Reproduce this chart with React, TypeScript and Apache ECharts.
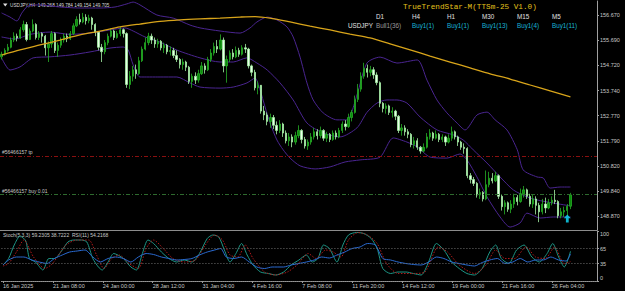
import React, { useEffect, useRef } from "react";
import * as echarts from "echarts";

const symbolName = "USDJPY";
const timeframe = "H4";
const firstOpen = 155.05;
const closes = [
  155.15, 155.3, 155.42, 155.7, 155.85, 155.78, 156.1, 156.3, 155.72, 156.05,
  156.3, 155.8, 155.95, 155.85, 155.4, 155.55, 155.95, 155.3, 155.5, 155.7,
  155.85, 155.75, 155.95, 156.25, 156.5, 156.4, 156.58, 156.45, 156.55, 156.3,
  156.0, 155.42, 155.25, 155.6, 155.85, 156.05, 155.8, 155.95, 156.1, 155.95,
  153.98, 154.3, 154.55, 154.4, 154.9, 155.35, 155.6, 155.85, 155.7, 155.55,
  155.65, 155.4, 155.5, 155.25, 155.3, 155.1, 154.95, 154.75, 154.85, 154.65,
  154.1, 154.3, 154.15, 154.4, 154.7, 154.55, 154.95, 155.2, 155.45, 155.35,
  155.7, 154.7, 154.95, 155.2, 155.05, 155.3, 155.15, 155.4, 155.35, 154.7,
  154.45, 153.85, 153.95, 152.95, 152.8, 152.55, 152.7, 152.4, 152.2, 152.45,
  152.1, 151.8, 151.95, 151.75, 152.0, 152.2, 151.85, 151.6, 151.75, 151.95,
  152.15, 152.0, 152.2, 151.9, 152.05, 151.85, 152.1, 151.95, 152.2, 152.45,
  152.35, 152.7, 152.9, 153.4, 153.8, 154.3, 154.6, 154.45, 154.55, 154.35,
  154.05, 153.25, 153.05, 153.15, 152.9, 152.95, 152.75, 152.2, 152.3, 152.15,
  152.05, 151.65, 151.8, 151.55, 151.4, 151.55, 151.95, 152.1, 151.9, 152.05,
  151.85, 151.95, 151.75, 151.9, 152.15, 151.95, 151.75, 151.55, 151.5, 150.45,
  150.3, 150.15, 149.7, 149.8, 149.55, 150.1, 150.35, 150.25, 150.45, 149.65,
  149.25, 149.4, 149.15, 149.35, 149.6, 149.45, 149.75, 149.9, 149.65, 149.35,
  149.55, 149.3, 149.05, 149.35, 149.2, 149.4, 149.5, 149.45, 148.9, 149.05,
  149.1, 149.268, 149.705,
];
const highs = [
  155.25, 155.38, 155.55, 155.8, 156.0, 155.95, 156.2, 156.45, 156.4, 156.15,
  156.5, 156.35, 156.05, 156.0, 155.9, 155.65, 156.05, 156.0, 155.6, 155.8,
  155.95, 155.95, 156.05, 156.35, 156.62, 156.72, 156.75, 156.7, 156.68, 156.6,
  156.35, 156.05, 155.55, 155.7, 155.95, 156.15, 156.1, 156.05, 156.2, 156.15,
  156.0, 154.5, 154.7, 154.75, 155.05, 155.45, 155.8, 155.98, 155.95, 155.8,
  155.75, 155.7, 155.6, 155.55, 155.45, 155.4, 155.3, 155.0, 154.98, 154.9,
  154.7, 154.4, 154.45, 154.55, 154.85, 154.8, 155.05, 155.35, 155.6, 155.7,
  155.92, 155.8, 155.1, 155.3, 155.35, 155.45, 155.4, 155.5, 155.55, 155.4,
  154.75, 154.55, 154.1, 153.9, 153.15, 152.9, 152.85, 152.8, 152.55, 152.6,
  152.5, 152.2, 152.1, 152.05, 152.15, 152.4, 152.25, 151.95, 151.85, 152.1,
  152.3, 152.25, 152.35, 152.25, 152.15, 152.1, 152.2, 152.2, 152.3, 152.55,
  152.6, 152.85, 153.0, 153.55, 154.0, 154.45, 154.82, 154.75, 154.7, 154.65,
  154.45, 154.1, 153.3, 153.25, 153.2, 153.1, 153.0, 152.8, 152.45, 152.4,
  152.25, 152.1, 151.95, 151.9, 151.6, 151.7, 152.1, 152.25, 152.15, 152.2,
  152.1, 152.05, 152.0, 152.05, 152.35, 152.2, 152.0, 151.8, 151.7, 151.55,
  150.55, 150.4, 150.2, 149.95, 149.85, 150.65, 150.6, 150.55, 150.6, 150.5,
  149.7, 149.5, 149.45, 149.5, 149.75, 149.7, 149.95, 150.05, 149.95, 149.75,
  149.7, 149.65, 149.4, 149.55, 149.6, 149.55, 149.65, 149.9, 149.5, 149.2,
  149.25, 149.35, 149.784,
];
const lows = [
  154.95, 155.1, 155.25, 155.38, 155.62, 155.65, 155.75, 156.02, 155.65, 155.7,
  156.0, 155.72, 155.7, 155.6, 155.1, 154.85, 155.4, 155.2, 155.05, 155.4,
  155.6, 155.62, 155.7, 155.9, 156.2, 156.3, 156.35, 156.3, 156.35, 156.1,
  155.85, 155.3, 154.85, 155.15, 155.5, 155.8, 155.7, 155.75, 155.85, 155.8,
  153.85, 153.8, 154.1, 154.2, 154.35, 154.85, 155.3, 155.5, 155.55, 155.4,
  155.4, 155.3, 155.2, 155.15, 155.1, 155.0, 154.85, 154.6, 154.55, 154.5,
  154.0, 153.85, 154.0, 154.05, 154.35, 154.4, 154.5, 154.85, 155.1, 155.2,
  155.3, 154.45, 154.05, 154.85, 154.95, 155.0, 155.05, 155.1, 155.2, 154.6,
  154.3, 153.75, 153.6, 152.85, 152.6, 152.4, 152.3, 152.25, 152.05, 152.1,
  151.95, 151.7, 151.6, 151.55, 151.65, 151.9, 151.7, 151.5, 151.45, 151.65,
  151.85, 151.85, 151.9, 151.8, 151.75, 151.75, 151.8, 151.85, 151.9, 152.1,
  152.2, 152.3, 152.55, 152.85, 153.3, 153.7, 154.2, 154.25, 154.3, 154.2,
  153.95, 153.1, 152.9, 152.85, 152.8, 152.7, 152.6, 152.1, 152.0, 152.0,
  151.9, 151.55, 151.5, 151.45, 151.3, 151.35, 151.5, 151.85, 151.8, 151.85,
  151.75, 151.75, 151.6, 151.7, 151.8, 151.85, 151.6, 151.45, 151.3, 150.35,
  150.15, 150.05, 149.6, 149.55, 149.45, 149.5, 150.0, 150.15, 150.2, 149.55,
  149.1, 148.95, 149.05, 149.0, 149.2, 149.3, 149.4, 149.6, 149.55, 149.25,
  149.2, 148.95, 148.65, 148.95, 149.0, 149.15, 149.3, 149.35, 148.8, 148.8,
  148.85, 148.9, 149.154,
];
const emptyBarsRight = 8;
const dateTicks = [
  "16 Jan 2025", "21 Jan 08:00", "24 Jan 00:00", "28 Jan 12:00", "31 Jan 04:00", "4 Feb 16:00",
  "7 Feb 08:00", "11 Feb 20:00", "14 Feb 12:00", "19 Feb 00:00", "21 Feb 16:00", "26 Feb 04:00",
];
const barsPerDateTick = 16;
const priceTicks = [156.67, 155.69, 154.72, 153.74, 152.77, 151.79, 150.82, 149.84, 148.87];
const oscTicks = [0, 35, 65, 100];
const oscLevels = [65, 35];
const orderTicket = "#56466157";
const tpPrice = 151.223;
const buyPrice = 149.73;
const buyLots = "0.01";
const arrowSignals = [[181, 148.79]];
const indicatorTitle = "TrueTrendStar-M(TTSm-25 V1.0)";
const tfNames = ["D1", "H4", "H1", "M30", "M15", "M5"];
const tfSignals = ["Bull1(36)", "Buy1(1)", "Buy1(1)", "Buy1(13)", "Buy1(4)", "Buy1(11)"];

// [bar index, price]
const bbUpper = [
  [0, 156.75], [2.7, 156.59], [4.9, 156.44], [6.5, 156.75], [8.5, 157.02], [12.3, 157.06], [18.7, 156.98],
  [25.1, 156.94], [31.5, 156.94], [36.3, 156.98], [40.1, 157.1], [42.1, 157.17], [44.3, 157.06],
  [49.7, 156.67], [54.9, 156.55], [60.3, 156.28], [63.5, 156.17], [69.9, 156.05], [76.3, 155.97],
  [79.5, 156.17], [81.7, 156.4], [85, 156.59], [88.1, 156.48], [91.3, 156.21], [93.3, 155.82],
  [95.5, 155.04], [97.7, 154.04], [99.7, 153.38], [102.9, 152.88], [107.3, 152.61], [110.5, 152.61],
  [113.7, 153.57], [116.9, 154.81], [121.1, 155.04], [126.5, 154.81], [133, 154.93], [136.1, 154.15],
  [139.3, 153.38], [142.5, 152.88], [145.7, 152.49], [148.3, 152.22], [152.1, 152.8], [155.3, 152.91],
  [157.9, 152.61], [161.7, 152.22], [165, 151.45], [166.9, 150.67], [171.3, 150.4], [173.3, 150.36],
  [175.5, 149.97], [178.7, 150.01], [182, 150.01],
];
const bbMiddle = [
  [0, 155.82], [4.3, 155.74], [9.1, 155.92], [15.5, 156.01], [21.9, 155.92], [28.3, 155.97], [34.7, 156.09],
  [39.5, 156.17], [42.1, 156.05], [45.9, 155.82], [50.7, 155.62], [56.1, 155.31], [63.5, 155.01],
  [69.9, 154.85], [74.1, 154.85], [78.5, 155.01], [81.7, 154.81], [85, 154.54], [89.1, 154.04],
  [93.3, 153.38], [97.7, 152.49], [102.9, 152.1], [108.3, 151.95], [113.7, 152.3], [116.9, 152.9],
  [120.1, 153.26], [123.3, 153.38], [126.5, 153.38], [129.7, 153.26], [133.9, 152.72], [139.3, 152.22],
  [144.5, 152.03], [147.7, 151.83], [150.9, 151.45], [155.3, 150.94], [159.5, 150.4], [163.7, 149.9],
  [168.1, 149.63], [171.3, 149.51], [176.5, 149.39], [182, 149.28],
];
const bbLower = [
  [0, 155.01], [2.7, 154.54], [5.9, 154.66], [10.1, 155.01], [15.5, 155.05], [21.9, 155.12], [28.3, 155.24],
  [34.7, 155.39], [38.9, 155.43], [40.5, 155.32], [42.1, 154.74], [44.3, 154.27], [50.7, 154.27],
  [56.1, 154.27], [60.3, 154.04], [63.5, 153.88], [69.9, 153.84], [74.1, 153.88], [78.5, 154.04],
  [81.1, 154.23], [82.7, 153.77], [84.3, 153.11], [85.9, 152.49], [88.1, 151.83], [90.1, 151.45],
  [92.3, 151.13], [95.5, 150.83], [100.3, 150.71], [105.1, 150.79], [109.9, 150.98], [114.7, 151.06],
  [121.1, 151.17], [125.3, 151.91], [129.7, 151.75], [133, 151.56], [137.1, 151.17], [142.5, 151.13],
  [146.7, 151.29], [148.9, 151.06], [152.1, 150.4], [155.3, 149.63], [159.5, 148.85], [162.7, 148.46],
  [165.9, 148.62], [168.1, 149.0], [172.3, 148.81], [176.5, 148.85], [182, 148.85],
];
const maLine = [
  [0, 155.12], [5.9, 155.32], [12.3, 155.51], [18.7, 155.7], [25.1, 155.9], [31.5, 156.05], [37.9, 156.21],
  [44.3, 156.32], [50.7, 156.42], [57.1, 156.48], [63.5, 156.52], [69.9, 156.55], [76.3, 156.59],
  [81.1, 156.61], [85.9, 156.55], [92.3, 156.4], [98.7, 156.24], [105.1, 156.09], [111.5, 155.93],
  [117.9, 155.78], [124.3, 155.55], [130.7, 155.32], [137.1, 155.08], [143.5, 154.85], [149.9, 154.62],
  [156.3, 154.39], [162.7, 154.19], [169.1, 153.96], [175.5, 153.73], [182, 153.5],
];
// [bar index, value]
const stochK = [
  [0, 32], [1.8, 45], [3.6, 72], [5.5, 90], [7.3, 80], [8.5, 45], [10.4, 38], [12.8, 22], [14.7, 45], [16.5, 45],
  [19, 62], [20.8, 78], [22.6, 82], [25.1, 82], [26.9, 78], [28.8, 45], [30.6, 28], [31.8, 22], [33.7, 38],
  [35.5, 55], [38.6, 45], [41, 28], [42.8, 22], [44.7, 55], [46.5, 82], [48.3, 75], [50.8, 58], [53.2, 45],
  [55.7, 38], [58.1, 42], [60.6, 38], [63, 55], [65.5, 85], [67.3, 92], [69.2, 88], [71, 62], [72.8, 38],
  [74.7, 55], [76.5, 75], [78.3, 52], [80.2, 32], [82.6, 18], [85.1, 15], [87.5, 12], [90, 18], [92.4, 32],
  [94.9, 42], [97.3, 52], [99.2, 38], [101, 45], [102.8, 72], [104.7, 65], [107.1, 38], [109, 72],
  [110.8, 92], [113.3, 97], [115.7, 95], [118.1, 85], [120, 65], [121.8, 25], [124.3, 15], [126.7, 18],
  [129.2, 18], [131.6, 15], [134.1, 12], [136.5, 38], [139, 75], [141.4, 62], [143.9, 38], [146.3, 25],
  [148.8, 15], [151.2, 12], [153.7, 25], [156.1, 58], [158, 72], [159.8, 45], [162.2, 35], [164.7, 62],
  [167.1, 72], [169.6, 48], [172, 38], [174.5, 55], [176.3, 75], [178.2, 48], [180, 28], [182, 59.2305],
];
const stochD = [
  [0, 30], [1.8, 35], [4.3, 58], [6.7, 82], [9.8, 48], [13.4, 25], [15.9, 35], [20.2, 72], [23.8, 82],
  [27.5, 82], [30, 52], [32.4, 25], [34.9, 45], [37.3, 52], [40.4, 35], [43.4, 25], [45.9, 65], [48.3, 82],
  [51.4, 65], [54.5, 45], [58.1, 38], [61.8, 42], [64.9, 72], [67.9, 92], [70.4, 82], [72.8, 52], [75.3, 48],
  [77.7, 72], [80.2, 45], [83.9, 18], [87.5, 12], [91.2, 18], [94.3, 32], [97.9, 55], [100.4, 45],
  [103.5, 62], [105.9, 58], [108.4, 48], [110.8, 82], [113.9, 97], [116.9, 92], [120, 75], [123, 35],
  [126.7, 15], [131.6, 15], [135.3, 18], [139.6, 68], [142.6, 58], [146.3, 32], [151.2, 15], [154.9, 32],
  [158, 62], [161, 45], [164.1, 45], [167.7, 68], [170.8, 48], [173.9, 45], [176.9, 68], [180, 35],
  [182, 38.7222],
];
const rsiLine = [
  [0, 32], [1.8, 42], [4.3, 48], [6.7, 48], [9.2, 42], [11.6, 38], [14.1, 35], [16.5, 45], [19, 52], [21.4, 58],
  [23.8, 60], [26.3, 62], [28.8, 48], [31.2, 38], [33.7, 45], [36.1, 48], [38.6, 45], [41, 38], [43.4, 48],
  [45.9, 55], [48.3, 53], [50.8, 48], [53.2, 45], [55.7, 42], [58.1, 43], [60.6, 45], [63, 52], [65.5, 58],
  [67.9, 62], [69.8, 65], [71.6, 48], [74.1, 45], [76.5, 48], [79, 38], [81.4, 28], [83.9, 25], [86.3, 28],
  [90, 28], [92.4, 32], [94.9, 35], [97.3, 38], [99.8, 42], [102.2, 48], [104.7, 46], [107.1, 52],
  [109.6, 58], [112, 65], [114.5, 68], [116.9, 75], [119.4, 72], [121.8, 45], [124.3, 42], [126.7, 38],
  [129.2, 35], [131.6, 33], [134.1, 32], [136.5, 38], [139, 48], [141.4, 45], [143.9, 38], [146.3, 35],
  [148.8, 32], [151.2, 30], [153.7, 37], [156.1, 42], [158.6, 45], [161, 35], [163.5, 38], [165.9, 45],
  [168.3, 38], [170.8, 42], [173.3, 42], [175.7, 48], [178.2, 42], [180.6, 40], [182, 54.2168],
];

const FONT = "Liberation Sans";
const GRAY = "#c8c8c8";

export default function App() {
  const ref = useRef<HTMLDivElement>(null);
  useEffect(() => {
    if (!ref.current) return;
    const chart = echarts.init(ref.current, undefined, { renderer: "svg" });
    const nBars = closes.length;
    const nCat = nBars + emptyBarsRight;
    const cats = Array.from({ length: nCat }, (_, i) => String(i));
    const candles = closes.map((c, i) => [i === 0 ? firstOpen : closes[i - 1], c, lows[i], highs[i]]);
    const last = nBars - 1;
    const header = `${symbolName},${timeframe}  ${closes[last - 1].toFixed(3)} ${highs[last].toFixed(3)} ${lows[last].toFixed(3)} ${closes[last].toFixed(3)}`;
    const oscText = `Stoch(5,3,3) ${stochK[stochK.length - 1][1].toFixed(4)} ${stochD[stochD.length - 1][1].toFixed(4)}  RSI(11) ${rsiLine[rsiLine.length - 1][1].toFixed(4)}`;

    const plotW = 597;
    const mainTop = 1, mainH = 229;
    const subTop = 231, subH = 50;
    const pxPerUnit = 25.83;
    const yMax = priceTicks[0] + (15 - mainTop) / pxPerUnit;
    const yMin = priceTicks[0] - (mainTop + mainH - 15) / pxPerUnit;

    const tickShown = (i: number) => i % barsPerDateTick === 0 && i / barsPerDateTick < dateTicks.length;
    const tfX = [376, 412, 447, 482, 517, 552];

    const lineSeries = (data: number[][], color: string, width: number, xi: number, yi: number, dash: any = "solid", z = 3, extra: any = {}) => ({
      type: "line",
      xAxisIndex: xi,
      yAxisIndex: yi,
      data,
      showSymbol: false,
      symbol: "none",
      smooth: 0.25,
      silent: true,
      lineStyle: { color, width, type: dash },
      z,
      ...extra,
    });

    const option: any = {
      animation: false,
      backgroundColor: "#000000",
      grid: [
        { left: 0, top: mainTop, width: plotW, height: mainH },
        { left: 0, top: subTop, width: plotW, height: subH },
      ],
      xAxis: [
        {
          type: "category", gridIndex: 0, data: cats, boundaryGap: true,
          axisLabel: { show: false }, axisTick: { show: false },
          axisLine: { show: true, onZero: false, lineStyle: { color: "#8c8c8c", width: 1 } },
          splitLine: { show: false },
        },
        {
          type: "category", gridIndex: 1, data: cats, boundaryGap: true,
          axisLine: { show: true, onZero: false, lineStyle: { color: "#9a9a9a", width: 1, type: "dotted" } },
          axisTick: { show: true, interval: (i: number) => tickShown(i), alignWithLabel: true, length: 2, lineStyle: { color: "#9a9a9a" } },
          axisLabel: {
            show: true, interval: (i: number) => tickShown(i),
            formatter: (_v: string, i: number) => dateTicks[i / barsPerDateTick] ?? "",
            align: "left", color: GRAY, fontSize: 5.5, fontFamily: FONT, margin: 2,
          },
          splitLine: { show: false },
        },
        { type: "value", gridIndex: 0, min: -0.5, max: nCat - 0.5, show: false },
        { type: "value", gridIndex: 1, min: -0.5, max: nCat - 0.5, show: false },
      ],
      yAxis: [
        {
          type: "value", gridIndex: 0, position: "right", min: yMin, max: yMax,
          axisLine: { show: true, onZero: false, lineStyle: { color: "#a0a0a0", width: 1 } },
          axisTick: { show: true, customValues: priceTicks, length: 2, lineStyle: { color: "#a0a0a0" } },
          axisLabel: { show: true, customValues: priceTicks, formatter: (v: number) => v.toFixed(3), color: GRAY, fontSize: 5.5, fontFamily: FONT, margin: 3 },
          splitLine: { show: false },
        },
        {
          type: "value", gridIndex: 1, position: "right", min: 0, max: 100,
          axisLine: { show: true, onZero: false, lineStyle: { color: "#a0a0a0", width: 1 } },
          axisTick: { show: true, customValues: oscTicks, length: 2, lineStyle: { color: "#a0a0a0" } },
          axisLabel: {
            show: true, customValues: oscTicks,
            formatter: (v: number) => (v === 100 ? "{t|100}" : v === 0 ? "{b|0}" : String(v)),
            color: GRAY, fontSize: 5.5, fontFamily: FONT, margin: 3,
            rich: {
              t: { padding: [6, 0, 0, 0], color: GRAY, fontSize: 5.5, fontFamily: FONT },
              b: { padding: [0, 0, 6, 0], color: GRAY, fontSize: 5.5, fontFamily: FONT },
            },
          },
          splitLine: { show: false },
        },
      ],
      series: [
        lineSeries(bbUpper, "#4a2590", 1, 2, 0),
        lineSeries(bbMiddle, "#4a2590", 1, 2, 0),
        lineSeries(bbLower, "#4a2590", 1, 2, 0),
        {
          type: "candlestick",
          xAxisIndex: 0, yAxisIndex: 0,
          data: candles,
          barWidth: 1.8,
          silent: true,
          z: 4,
          itemStyle: { color: "#0c8a0c", color0: "#e8ffe8", borderColor: "#26b026", borderColor0: "#a4f0a4", borderWidth: 0.8 },
          markLine: {
            silent: true, symbol: "none", animation: false,
            data: [
              {
                yAxis: tpPrice,
                lineStyle: { color: "#8a1010", width: 1, type: [4, 2, 1, 2] },
                label: { show: true, position: "insideStartTop", distance: [2, 1], formatter: `${orderTicket} tp`, color: GRAY, fontSize: 5, fontFamily: FONT },
              },
              {
                yAxis: buyPrice,
                lineStyle: { color: "#2e6a2e", width: 1, type: [4, 2, 1, 2] },
                label: { show: true, position: "insideStartTop", distance: [2, 1], formatter: `${orderTicket} buy ${buyLots}`, color: GRAY, fontSize: 5, fontFamily: FONT },
              },
              {
                yAxis: closes[last],
                lineStyle: { opacity: 0 },
                label: {
                  show: true, position: "end", distance: 1, formatter: closes[last].toFixed(3),
                  color: "#000", backgroundColor: "#ffffff", padding: [1, 2, 0, 2], fontSize: 5.5, fontFamily: FONT,
                },
              },
            ],
          },
        },
        lineSeries(maLine, "#d8a41a", 1.3, 2, 0, "solid", 5),
        {
          type: "scatter", xAxisIndex: 2, yAxisIndex: 0, data: arrowSignals, silent: true, z: 6,
          symbol: "path://M4,0 L8,4.2 L5.6,4.2 L5.6,9 L2.4,9 L2.4,4.2 L0,4.2 Z",
          symbolSize: [7, 8], itemStyle: { color: "#10e0ff" },
        },
        lineSeries(stochK, "#1d9585", 1, 3, 1, "solid", 3, {
          markLine: {
            silent: true, symbol: "none", label: { show: false },
            lineStyle: { color: "#707070", width: 1, type: [1, 2] },
            data: oscLevels.map((v) => ({ yAxis: v })),
          },
        }),
        lineSeries(stochD, "#b01a1a", 1, 3, 1, [1.5, 1.5], 3),
        lineSeries(rsiLine, "#2a6ad0", 1, 3, 1, "solid", 3),
      ],
      graphic: [
        { type: "polygon", shape: { points: [[3, 3.5], [7.5, 3.5], [5.25, 6.5]] }, style: { fill: "#e0e0e0" } },
        { type: "text", x: 10, y: 5, style: { text: header, fill: "#d8d8d8", fontSize: 4.7, fontFamily: FONT, verticalAlign: "middle" } },
        { type: "text", x: 403, y: 7, style: { text: indicatorTitle, fill: "#e4c21c", fontSize: 7.7, fontFamily: "Liberation Mono", verticalAlign: "middle" } },
        { type: "text", x: 348, y: 25, style: { text: symbolName, fill: "#e0e0e0", fontSize: 6.3, fontFamily: FONT, verticalAlign: "middle" } },
        ...tfNames.map((t, k) => ({ type: "text", x: tfX[k], y: 16, style: { text: t, fill: "#e0e0e0", fontSize: 6.3, fontFamily: FONT, verticalAlign: "middle" } })),
        ...tfSignals.map((t, k) => ({ type: "text", x: tfX[k], y: 25, style: { text: t, fill: k === 0 ? "#9a9a9a" : "#18b4d4", fontSize: 6.3, fontFamily: FONT, verticalAlign: "middle" } })),
        { type: "text", x: 3, y: 235, style: { text: oscText, fill: GRAY, fontSize: 5, fontFamily: FONT, verticalAlign: "middle" } },
      ],
    };
    chart.setOption(option);
    return () => chart.dispose();
  }, []);
  return (
    <div
      ref={ref}
      style={{ position: "fixed", left: 0, top: 0, width: 625, height: 291, background: "#000" }}
    />
  );
}
